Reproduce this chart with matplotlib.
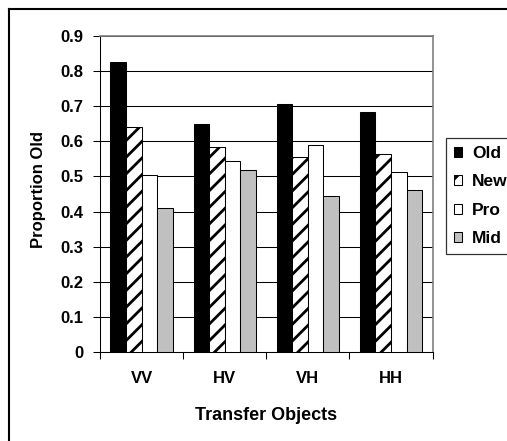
import matplotlib
matplotlib.use('Agg')
import matplotlib.pyplot as plt
import numpy as np
from matplotlib.lines import Line2D

plt.rcParams['font.family'] = ['Liberation Sans', 'DejaVu Sans']
plt.rcParams['font.weight'] = 'bold'
plt.rcParams['hatch.linewidth'] = 2.0

# data
categories = ['VV', 'HV', 'VH', 'HH']
series_names = ['Old', 'New', 'Pro', 'Mid']
old_vals = [0.826, 0.649, 0.706, 0.683]
new_vals = [0.640, 0.583, 0.554, 0.565]
pro_vals = [0.503, 0.543, 0.590, 0.513]
mid_vals = [0.411, 0.517, 0.445, 0.461]
y_ticks = [0, 0.1, 0.2, 0.3, 0.4, 0.5, 0.6, 0.7, 0.8, 0.9]

W, H = 507, 441
fig = plt.figure(figsize=(W / 100, H / 100), dpi=100)
ax = fig.add_axes([100 / W, 1 - 352 / H, 332.6 / W, 316 / H])

styles = [
    dict(color='black', hatch=None),
    dict(color='white', hatch='//'),
    dict(color='white', hatch=None),
    dict(color='#c0c0c0', hatch=None),
]
values = [old_vals, new_vals, pro_vals, mid_vals]

x = np.arange(len(categories))
bw = 0.187
handles = []
for i, (name, vals, st) in enumerate(zip(series_names, values, styles)):
    offs = (i - 1.5) * bw
    bars = ax.bar(x + offs, vals, width=bw, color=st['color'], hatch=st['hatch'],
                  edgecolor='black', linewidth=0.75, label=name, zorder=3)
    handles.append(bars)

ax.set_xlim(-0.5, len(categories) - 0.5)
ax.set_ylim(0, 0.9)
ax.set_yticks(y_ticks)
ax.set_yticklabels(['0' if v == 0 else f'{v:.1f}' for v in y_ticks], fontsize=12, fontweight='bold')
ax.yaxis.grid(True, color='black', linewidth=0.75, zorder=0)
ax.set_axisbelow(True)

ax.set_xticks(x)
ax.set_xticklabels(categories, fontsize=12, fontweight='bold')
ax.set_xticks(np.arange(-0.5, len(categories), 1), minor=True)
ax.tick_params(axis='x', which='major', length=0, pad=14)
ax.tick_params(axis='x', which='minor', length=5, width=0.75, direction='out')
ax.tick_params(axis='y', length=5, width=0.75, direction='out', pad=7)

for s in ['top', 'right']:
    ax.spines[s].set_color('#808080')
    ax.spines[s].set_linewidth(1.2)
for s in ['left', 'bottom']:
    ax.spines[s].set_color('black')
    ax.spines[s].set_linewidth(0.75)

fig.text(266 / W, 1 - 415 / H, 'Transfer Objects', ha='center', va='center',
         fontsize=13, fontweight='bold')
fig.text(39 / W, 1 - 190 / H, 'Proportion Old', ha='center', va='center',
         rotation=90, fontsize=12, fontweight='bold')

# legend box runs past the right edge of the crop
leg = fig.legend(handles=handles, labels=series_names, loc='upper left',
                 bbox_to_anchor=(446 / W, 1 - 138 / H, 80 / W, 0), mode='expand',
                 frameon=True, fancybox=False,
                 fontsize=12.5, handlelength=0.5, handleheight=0.5, handletextpad=0.55,
                 labelspacing=0.78, borderpad=0.45, borderaxespad=0)
leg.get_frame().set_edgecolor('black')
leg.get_frame().set_linewidth(0.9)

# outer chart border (only top and left visible in the crop)
fig.add_artist(Line2D([9 / W, 1], [1 - 9 / H, 1 - 9 / H], color='black', linewidth=1.5,
                      transform=fig.transFigure))
fig.add_artist(Line2D([9 / W, 9 / W], [0, 1 - 9 / H], color='black', linewidth=1.5,
                      transform=fig.transFigure))

fig.savefig('out.png', dpi=100)
